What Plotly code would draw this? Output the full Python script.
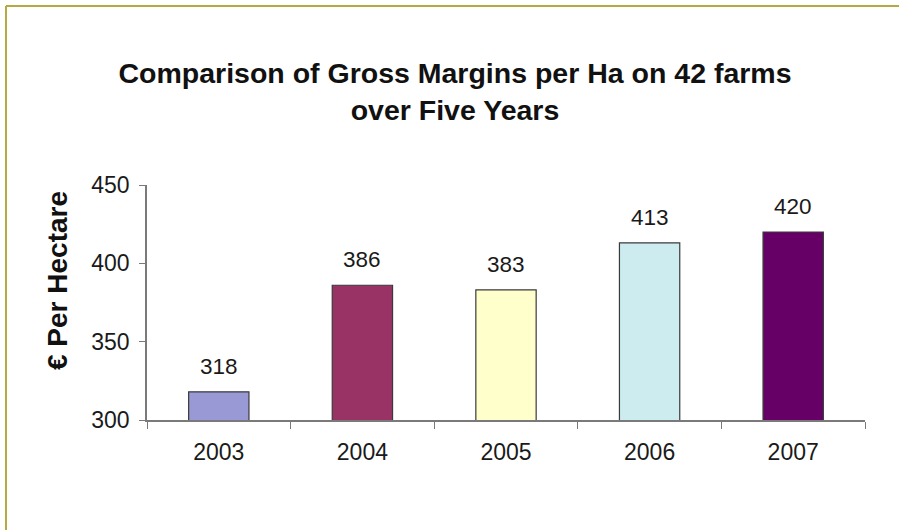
import plotly.graph_objects as go

years = ["2003", "2004", "2005", "2006", "2007"]
margins = [318, 386, 383, 413, 420]
bar_colors = ["#9999d6", "#993366", "#ffffcc", "#ccecf0", "#660066"]
y_ticks = [300, 350, 400, 450]

FONT = "Liberation Sans, Arial, sans-serif"

fig = go.Figure()
fig.add_trace(go.Bar(
    x=years,
    y=margins,
    marker=dict(color=bar_colors, line=dict(color="#3a3a3a", width=1.2)),
    width=0.42,
    hoverinfo="skip",
))

# value labels above each bar (category index, since the year names look numeric)
for i, v in enumerate(margins):
    fig.add_annotation(
        x=i, y=v, xref="x", yref="y",
        text=str(v), showarrow=False,
        yanchor="bottom", yshift=11,
        font=dict(family=FONT, size=22.5, color="#1a1a1a"),
    )

# rotated y-axis title
fig.add_annotation(
    xref="paper", yref="paper",
    x=(57 - 147) / 718, y=(420 - 281) / 235,
    text="<b>€ Per Hectare</b>", textangle=-90, showarrow=False,
    xanchor="center", yanchor="middle",
    font=dict(family=FONT, size=28, color="#111111"),
)

# thin gold frame along the top and left edges
fig.add_shape(type="line", xref="paper", yref="paper",
              x0=(6 - 147) / 718, x1=(899 - 147) / 718,
              y0=(420 - 6) / 235, y1=(420 - 6) / 235,
              line=dict(color="#b8a840", width=2))
fig.add_shape(type="line", xref="paper", yref="paper",
              x0=(6 - 147) / 718, x1=(6 - 147) / 718,
              y0=(420 - 6) / 235, y1=(420 - 530) / 235,
              line=dict(color="#b8a840", width=2))

fig.update_layout(
    width=899, height=530,
    margin=dict(l=147, r=34, t=185, b=110),
    paper_bgcolor="white", plot_bgcolor="white",
    showlegend=False,
    title=dict(
        text="<b>Comparison of Gross Margins per Ha on 42 farms<br>over Five Years</b>",
        x=455 / 899, xanchor="center",
        y=1 - 83 / 530, yanchor="middle", yref="container",
        font=dict(family=FONT, size=28.5, color="#111111"),
    ),
    xaxis=dict(
        type="category", range=[-0.5, len(years) - 0.5],
        showline=True, linecolor="#7a7a7a", linewidth=1.5,
        ticks="outside", tickson="boundaries", ticklen=7, tickcolor="#7a7a7a",
        ticklabelstandoff=11,
        tickfont=dict(family=FONT, size=23, color="#1a1a1a"),
        showgrid=False, zeroline=False,
    ),
    yaxis=dict(
        range=[300, 450], tickvals=y_ticks,
        showline=True, linecolor="#7a7a7a", linewidth=1.5,
        ticks="outside", ticklen=6, tickcolor="#7a7a7a",
        ticklabelstandoff=5,
        tickfont=dict(family=FONT, size=23, color="#1a1a1a"),
        showgrid=False, zeroline=False,
    ),
)

fig.write_html("out.html")
